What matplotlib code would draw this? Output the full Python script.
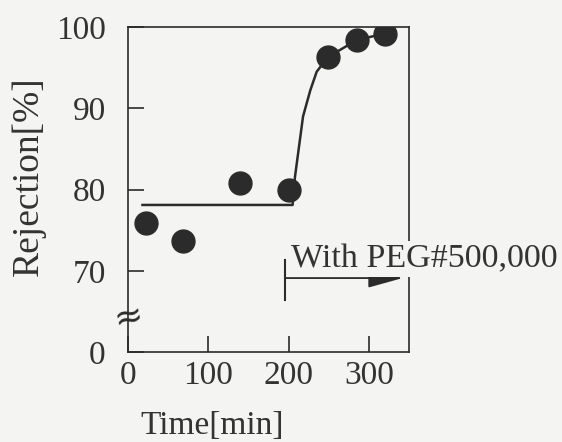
import matplotlib
matplotlib.use('Agg')
import matplotlib.pyplot as plt

plt.rcParams['font.family'] = ['Liberation Serif', 'DejaVu Serif']

# measured points
time_pts = [22, 69, 140, 200, 249, 285, 320]
rej_pts = [75.9, 73.7, 80.8, 79.9, 96.3, 98.4, 99.2]

# hand-drawn trend line
line_t = [18, 205, 208, 218, 227, 235, 249, 285, 320]
line_v = [78.1, 78.1, 81.6, 89.0, 92.2, 94.5, 96.3, 98.4, 99.2]

xticks = [0, 100, 200, 300]
yticks = [60, 70, 80, 90, 100]
ytick_labels = ['0', '70', '80', '90', '100']

peg_start = 195.5
peg_end = 342
ink = '#2b2b2b'
bg = '#f4f4f2'

fig = plt.figure(figsize=(5.62, 4.42), dpi=100, facecolor=bg)
ax = fig.add_axes([0.2278, 0.2036, 0.5, 0.7353])
ax.set_facecolor(bg)

ax.plot(line_t, line_v, color=ink, lw=1.8, zorder=2)
ax.plot(time_pts, rej_pts, 'o', color=ink, ms=16.5, zorder=3)

ax.set_xlim(0, 350)
ax.set_ylim(60, 100)
ax.set_xticks(xticks)
ax.set_yticks(yticks)
ax.set_yticklabels(ytick_labels)
ax.tick_params(axis='both', direction='in', length=11.5, width=1.2, color=ink,
               labelsize=24, labelcolor='#333333')
ax.tick_params(axis='y', pad=16)
ax.tick_params(axis='x', pad=6)
for s in ax.spines.values():
    s.set_color(ink)
    s.set_linewidth(1.2)

ax.set_xlabel('Time[min]', fontsize=24, color='#333333', va='center')
ax.xaxis.set_label_coords(0.30, -0.228)
ax.set_ylabel('Rejection[%]', fontsize=27, color='#333333', va='center')
ax.yaxis.set_label_coords(-0.355, 0.54)

# axis break mark
ax.text(0, 64.2, '\u2248', fontsize=25, family='DejaVu Sans', ha='center',
        va='center', color=ink, rotation=12, zorder=5, clip_on=False)

# PEG addition marker
ax.plot([peg_start, peg_start], [66.4, 71.3], color=ink, lw=1.5, clip_on=False)
ax.annotate('', xy=(peg_end, 69.1), xytext=(peg_start, 69.1),
            arrowprops=dict(arrowstyle='-|>,head_length=0.9,head_width=0.25',
                            mutation_scale=24, lw=1.3, color=ink,
                            shrinkA=0, shrinkB=0), zorder=4)
ax.text(peg_start + 8, 70.4, 'With PEG#500,000', fontsize=24.5, color='#333333',
        ha='left', va='baseline', clip_on=False, zorder=4,
        bbox=dict(facecolor=bg, edgecolor='none', pad=2))

fig.savefig('out.png', dpi=100, facecolor=bg)
